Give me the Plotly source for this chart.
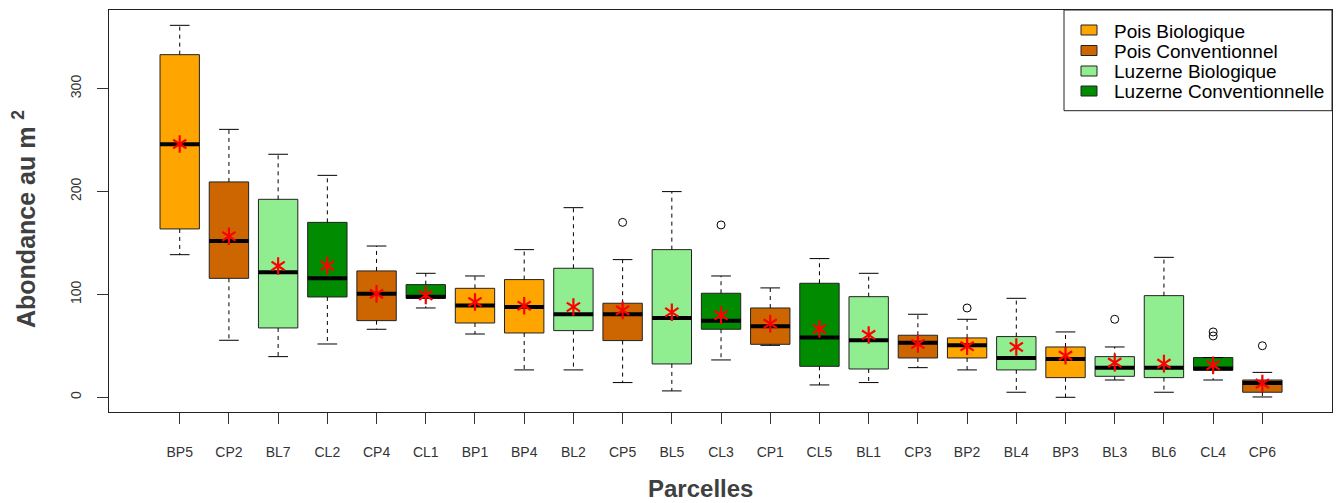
import plotly.graph_objects as go

# ---------------- data ----------------
categories = ["BP5", "CP2", "BL7", "CL2", "CP4", "CL1", "BP1", "BP4", "BL2", "CP5", "BL5", "CL3",
              "CP1", "CL5", "BL1", "CP3", "BP2", "BL4", "BP3", "BL3", "BL6", "CL4", "CP6"]
lower_whisker = [138.6, 55.4, 39.5, 51.8, 66.1, 86.8, 61.5, 26.6, 26.6, 14.3, 6.2, 36.3,
                 50.5, 12.0, 14.3, 28.8, 26.6, 4.9, 0.0, 16.8, 4.9, 16.8, 0.3]
q1 = [163.6, 115.6, 67.4, 97.5, 74.5, 96.2, 72.2, 62.5, 64.8, 55.1, 32.4, 66.1,
      51.5, 30.1, 27.5, 38.2, 38.2, 26.6, 19.1, 20.4, 19.1, 26.3, 4.9]
median = [245.9, 151.9, 121.5, 115.6, 100.7, 97.8, 89.1, 87.8, 80.7, 80.7, 77.1, 74.5,
          69.0, 58.0, 55.4, 53.1, 50.5, 38.2, 37.3, 28.8, 28.8, 28.0, 14.0]
q3 = [333.0, 209.3, 192.4, 170.0, 122.8, 109.5, 105.9, 114.4, 125.4, 91.4, 143.5, 101.1,
      86.8, 110.8, 97.8, 60.3, 57.7, 59.0, 48.9, 39.5, 98.8, 38.6, 16.8]
upper_whisker = [361.5, 260.4, 236.2, 215.7, 147.0, 120.5, 117.9, 143.5, 184.3, 133.8, 199.9, 117.9,
                 106.3, 134.8, 120.5, 80.7, 75.8, 96.2, 63.5, 48.9, 136.0, 38.6, 24.2]
means = [246.2, 156.5, 127.6, 128.0, 100.5, 99.0, 92.6, 89.0, 87.8, 84.5, 82.6, 79.7,
         71.6, 66.4, 60.6, 51.8, 49.6, 48.9, 40.5, 33.7, 32.7, 31.1, 13.3]
outlier_cat = ["CP5", "CL3", "BP2", "BL3", "CL4", "CL4", "CP6"]
outlier_val = [170.0, 167.5, 86.8, 75.8, 63.5, 59.6, 50.1]

group_prefix = ["BP", "CP", "BL", "CL"]
group_names = ["Pois Biologique", "Pois Conventionnel", "Luzerne Biologique", "Luzerne Conventionnelle"]
group_colors = ["#FFA500", "#CD6600", "#90EE90", "#008B00"]

y_ticks = [0, 100, 200, 300]

# ---------------- geometry helpers ----------------
W_FIG, H_FIG = 1336, 503
L, R, T, B = 109, 1332, 10, 412
PW, PH = R - L, B - T


def pxx(px):
    return (px - L) / PW


def pyy(py):
    return (B - py) / PH


pos = list(range(len(categories)))
color_of = {p: c for p, c in zip(group_prefix, group_colors)}
box_colors = [color_of[c[:2]] for c in categories]
BOXW = 0.8
CAPW = 0.4

fig = go.Figure()

# boxes
fig.add_trace(go.Bar(
    x=pos, y=[b - a for a, b in zip(q1, q3)], base=q1, width=BOXW,
    marker=dict(color=box_colors, line=dict(color="#222222", width=1)),
    showlegend=False, hoverinfo="skip"))

# dashed whiskers
wx, wy = [], []
for i, lo, a, b, hi in zip(pos, lower_whisker, q1, q3, upper_whisker):
    wx += [i, i, None, i, i, None]
    wy += [b, hi, None, a, lo, None]
fig.add_trace(go.Scatter(x=wx, y=wy, mode="lines",
                         line=dict(color="black", width=1, dash="4px,4px"),
                         showlegend=False, hoverinfo="skip"))

# caps
cx, cy = [], []
for i, lo, hi in zip(pos, lower_whisker, upper_whisker):
    cx += [i - CAPW / 2, i + CAPW / 2, None, i - CAPW / 2, i + CAPW / 2, None]
    cy += [hi, hi, None, lo, lo, None]
fig.add_trace(go.Scatter(x=cx, y=cy, mode="lines", line=dict(color="black", width=1),
                         showlegend=False, hoverinfo="skip"))

# medians
mx, my = [], []
for i, m in zip(pos, median):
    mx += [i - BOXW / 2, i + BOXW / 2, None]
    my += [m, m, None]
fig.add_trace(go.Scatter(x=mx, y=my, mode="lines", line=dict(color="black", width=4),
                         showlegend=False, hoverinfo="skip"))

# outliers
fig.add_trace(go.Scatter(x=[categories.index(c) for c in outlier_cat], y=outlier_val, mode="markers",
                         marker=dict(symbol="circle-open", size=8, color="black", line=dict(width=1)),
                         showlegend=False, hoverinfo="skip"))

# means (six-armed asterisk built from two symbols)
for sym in ["y-up-open", "y-down-open"]:
    fig.add_trace(go.Scatter(x=pos, y=means, mode="markers",
                             marker=dict(symbol=sym, size=11, color="red",
                                         line=dict(color="red", width=2.2)),
                             showlegend=False, hoverinfo="skip"))

# ---------------- legend (drawn) ----------------
shapes = [dict(type="rect", xref="paper", yref="paper", x0=pxx(1064), x1=1.0, y0=pyy(110.7), y1=1.0,
               line=dict(color="#222222", width=1), fillcolor="white", layer="below")]
annotations = []
row_y = [30, 50.5, 71, 91]
for name, col, ry in zip(group_names, group_colors, row_y):
    shapes.append(dict(type="rect", xref="paper", yref="paper",
                       x0=pxx(1081), x1=pxx(1097), y0=pyy(ry + 5), y1=pyy(ry - 5),
                       line=dict(color="#222222", width=1), fillcolor=col))
    annotations.append(dict(text=name, xref="paper", yref="paper", x=pxx(1112), y=pyy(ry + 1),
                            xanchor="left", yanchor="middle", showarrow=False,
                            font=dict(family="Liberation Sans, Arial", size=19, color="black")))

# axis titles
annotations.append(dict(text="Abondance au m <sup>2</sup>", xref="paper", yref="paper",
                        x=pxx(24), y=pyy(219), textangle=-90, xanchor="center", yanchor="middle",
                        showarrow=False,
                        font=dict(family="Liberation Sans, Arial", size=25, color="#404040", weight="bold")))
annotations.append(dict(text="Parcelles", xref="paper", yref="paper",
                        x=pxx(700), y=pyy(488), xanchor="center", yanchor="middle", showarrow=False,
                        font=dict(family="Liberation Sans, Arial", size=24, color="#404040", weight="bold")))

fig.update_layout(
    width=W_FIG, height=H_FIG,
    margin=dict(l=L, r=W_FIG - R, t=T, b=H_FIG - B, pad=0),
    plot_bgcolor="white", paper_bgcolor="white",
    showlegend=False,
    shapes=shapes, annotations=annotations,
    xaxis=dict(range=[-1.437, 23.415], tickmode="array", tickvals=pos, ticktext=categories,
               ticks="outside", ticklen=11, tickcolor="#333333", tickwidth=1,
               showline=True, mirror=True, linecolor="#222222", linewidth=1,
               showgrid=False, zeroline=False, ticklabelstandoff=16,
               tickfont=dict(family="Liberation Sans, Arial", size=14, color="#333333")),
    yaxis=dict(range=[-14.3, 376.4], tickmode="array", tickvals=y_ticks,
               ticks="outside", ticklen=11, tickcolor="#333333", tickwidth=1, tickangle=-90,
               showline=True, mirror=True, linecolor="#222222", linewidth=1,
               showgrid=False, zeroline=False, ticklabelstandoff=10,
               tickfont=dict(family="Liberation Sans, Arial", size=14, color="#333333")),
)

fig.write_html("out.html")
